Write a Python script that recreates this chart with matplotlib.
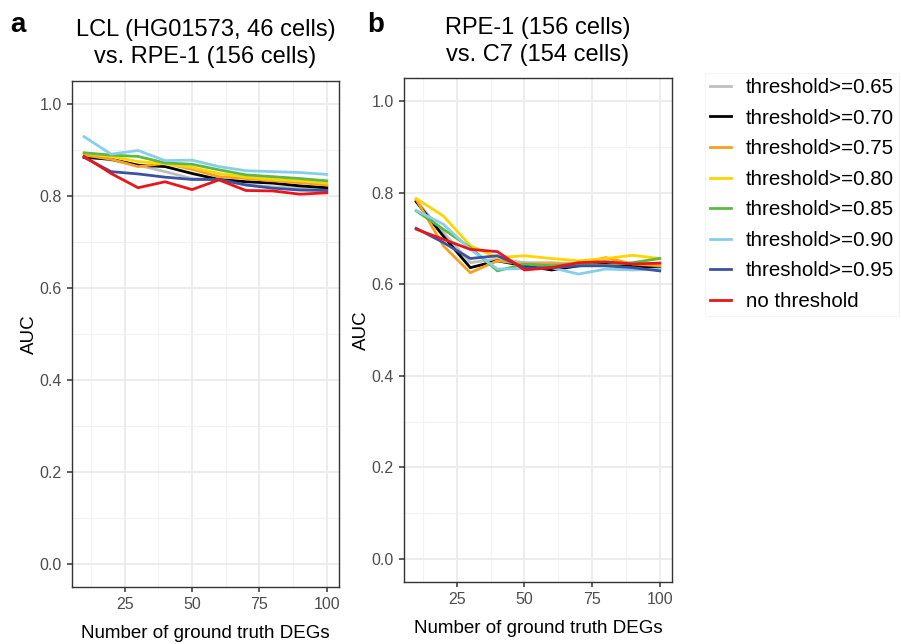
import numpy as np
import matplotlib
matplotlib.use('Agg')
import matplotlib.pyplot as plt
from matplotlib.ticker import MultipleLocator

plt.rcParams['font.family'] = ['Liberation Sans', 'DejaVu Sans']

# Number of ground truth DEGs
n_degs = [10, 20, 30, 40, 50, 60, 70, 80, 90, 100]

labels = ['threshold>=0.65', 'threshold>=0.70', 'threshold>=0.75', 'threshold>=0.80',
          'threshold>=0.85', 'threshold>=0.90', 'threshold>=0.95', 'no threshold']
colors = ['#BEBEBE', '#000000', '#F5A020', '#FFD500', '#5DB943', '#87CEEB', '#3A52A3', '#E8161B']

# AUC, LCL (HG01573) vs. RPE-1
auc_a_065 = [0.887, 0.878, 0.867, 0.853, 0.838, 0.835, 0.824, 0.820, 0.817, 0.813]
auc_a_070 = [0.884, 0.880, 0.867, 0.864, 0.849, 0.836, 0.831, 0.828, 0.822, 0.818]
auc_a_075 = [0.889, 0.880, 0.864, 0.871, 0.858, 0.842, 0.838, 0.833, 0.829, 0.824]
auc_a_080 = [0.893, 0.886, 0.875, 0.870, 0.862, 0.849, 0.841, 0.836, 0.833, 0.828]
auc_a_085 = [0.894, 0.889, 0.886, 0.872, 0.869, 0.857, 0.846, 0.842, 0.838, 0.833]
auc_a_090 = [0.929, 0.891, 0.899, 0.877, 0.878, 0.864, 0.855, 0.853, 0.851, 0.847]
auc_a_095 = [0.884, 0.853, 0.848, 0.841, 0.836, 0.836, 0.824, 0.817, 0.813, 0.812]
auc_a_none = [0.886, 0.849, 0.818, 0.831, 0.814, 0.835, 0.812, 0.811, 0.804, 0.807]

# AUC, RPE-1 vs. C7
auc_b_065 = [0.782, 0.713, 0.647, 0.655, 0.647, 0.647, 0.644, 0.647, 0.644, 0.644]
auc_b_070 = [0.780, 0.705, 0.636, 0.651, 0.640, 0.631, 0.640, 0.644, 0.640, 0.636]
auc_b_075 = [0.785, 0.684, 0.625, 0.651, 0.644, 0.644, 0.644, 0.658, 0.644, 0.640]
auc_b_080 = [0.787, 0.749, 0.684, 0.658, 0.662, 0.656, 0.651, 0.656, 0.663, 0.656]
auc_b_085 = [0.760, 0.720, 0.680, 0.629, 0.644, 0.640, 0.644, 0.641, 0.647, 0.656]
auc_b_090 = [0.761, 0.731, 0.676, 0.633, 0.634, 0.636, 0.622, 0.633, 0.631, 0.633]
auc_b_095 = [0.722, 0.691, 0.656, 0.662, 0.636, 0.636, 0.640, 0.640, 0.636, 0.629]
auc_b_none = [0.720, 0.698, 0.676, 0.671, 0.631, 0.636, 0.647, 0.649, 0.644, 0.646]

series_a = [auc_a_065, auc_a_070, auc_a_075, auc_a_080, auc_a_085, auc_a_090, auc_a_095, auc_a_none]
series_b = [auc_b_065, auc_b_070, auc_b_075, auc_b_080, auc_b_085, auc_b_090, auc_b_095, auc_b_none]

fig = plt.figure(figsize=(9.01, 6.44), dpi=100)
ax_a = fig.add_axes([0.0799, 0.0885, 0.2963, 0.7857])
ax_b = fig.add_axes([0.4484, 0.0963, 0.2974, 0.7826])


def style_panel(ax):
    ax.set_xlim(5.5, 104.5)
    ax.set_ylim(-0.05, 1.05)
    ax.xaxis.set_major_locator(MultipleLocator(25))
    ax.xaxis.set_minor_locator(MultipleLocator(12.5))
    ax.yaxis.set_major_locator(MultipleLocator(0.2))
    ax.yaxis.set_minor_locator(MultipleLocator(0.1))
    ax.yaxis.set_major_formatter(plt.FormatStrFormatter('%.1f'))
    ax.grid(which='major', color='#EBEBEB', linewidth=1.3)
    ax.grid(which='minor', color='#F2F2F2', linewidth=0.8)
    ax.set_axisbelow(True)
    ax.tick_params(which='major', length=3.8, width=1.1, color='#333333',
                   labelcolor='#4D4D4D', labelsize=11.5, pad=3.5)
    ax.tick_params(which='minor', length=0)
    for sp in ax.spines.values():
        sp.set_color('#333333')
        sp.set_linewidth(1.0)
    ax.set_xlabel('Number of ground truth DEGs', fontsize=13.5, labelpad=9)
    ax.set_ylabel('AUC', fontsize=13.5, labelpad=1)


for ax, series in [(ax_a, series_a), (ax_b, series_b)]:
    for vals, col, lab in zip(series, colors, labels):
        ax.plot(n_degs, vals, color=col, linewidth=2.0, label=lab)
    style_panel(ax)

ax_a.set_title('LCL (HG01573, 46 cells)\nvs. RPE-1 (156 cells)', fontsize=17, pad=13, linespacing=1.3)
ax_b.set_title('RPE-1 (156 cells)\nvs. C7 (154 cells)', fontsize=17, pad=12, linespacing=1.3)

fig.text(0.011, 0.950, 'a', fontsize=20, fontweight='bold')
fig.text(0.408, 0.950, 'b', fontsize=20, fontweight='bold')

handles, labs = ax_b.get_legend_handles_labels()
leg = fig.legend(handles, labs, loc='upper left', bbox_to_anchor=(0.7826, 0.8866),
                 frameon=True, fontsize=14.8, handlelength=1.0, handletextpad=0.72,
                 labelspacing=0.56, borderpad=0.25, borderaxespad=0, fancybox=False)
leg.get_frame().set_edgecolor('#F2F2F2')
leg.get_frame().set_linewidth(0.8)

fig.savefig('out.png', dpi=100)
